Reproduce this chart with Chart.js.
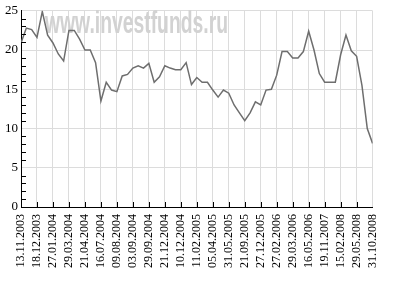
<!DOCTYPE html>
<html>
<head>
<meta charset="utf-8">
<script src="https://cdn.jsdelivr.net/npm/chart.js@4.4.1/dist/chart.umd.min.js"></script>
<style>
    body { margin: 0; background: #fff; }
    #fundChart { display: block; }
</style>
</head>
<body>
<canvas id="fundChart" width="394" height="283"></canvas>
<script>
// tick labels under the x axis, one every 3 points
const dateLabels = [
    '13.11.2003', '18.12.2003', '27.01.2004', '29.03.2004', '21.04.2004', '16.07.2004',
    '09.08.2004', '03.09.2004', '29.09.2004', '21.12.2004', '10.12.2004', '11.02.2005',
    '05.04.2005', '31.05.2005', '21.09.2005', '27.12.2005', '27.02.2006', '29.03.2006',
    '16.05.2006', '19.11.2007', '15.02.2008', '29.05.2008', '31.10.2008'
];

// values
const values = [
    20.9, 22.8, 22.6, 21.6, 24.9, 21.9, 20.9, 19.5, 18.6, 22.5,
    22.5, 21.4, 20.0, 20.0, 18.4, 13.5, 15.9, 14.9, 14.7, 16.7,
    16.9, 17.7, 18.0, 17.7, 18.3, 15.9, 16.6, 18.0, 17.7, 17.5,
    17.5, 18.4, 15.6, 16.5, 15.9, 15.9, 14.9, 14.0, 14.9, 14.5,
    13.0, 12.0, 11.0, 12.0, 13.4, 13.0, 14.9, 15.0, 16.8, 19.8,
    19.8, 19.0, 19.0, 19.8, 22.4, 20.0, 17.0, 15.9, 15.9, 15.9,
    19.4, 21.9, 19.9, 19.2, 15.5, 10.0, 8.1
];

const yTicks = [0, 5, 10, 15, 20, 25];
const pointsPerLabel = 3;

const points = values.map((v, i) => ({ x: i, y: v }));

// watermark behind the line
const watermark = {
    id: 'watermark',
    beforeDatasetsDraw(chart) {
        const ctx = chart.ctx;
        ctx.save();
        ctx.font = 'bold 31px "Liberation Sans", Arial, sans-serif';
        ctx.fillStyle = '#d2d2d2';
        ctx.textBaseline = 'alphabetic';
        const text = 'www.investfunds.ru';
        const w = ctx.measureText(text).width;
        ctx.translate(45, 33);
        ctx.scale(183 / w, 1);
        ctx.fillText(text, 0, 0);
        ctx.restore();
    }
};

// small tick marks pointing into the plot
const innerTicks = {
    id: 'innerTicks',
    afterDraw(chart) {
        const ctx = chart.ctx;
        const x = chart.scales.x;
        const y = chart.scales.y;
        ctx.save();
        ctx.strokeStyle = '#000';
        ctx.lineWidth = 1;
        ctx.beginPath();
        for (let v = 1; v < 25; v++) {
            if (v % 5 === 0) continue;
            const py = Math.round(y.getPixelForValue(v)) + 0.5;
            ctx.moveTo(x.left, py);
            ctx.lineTo(x.left + 5, py);
        }
        for (let i = pointsPerLabel; i < values.length - 1; i += pointsPerLabel) {
            const px = Math.round(x.getPixelForValue(i)) + 0.5;
            ctx.moveTo(px, y.bottom);
            ctx.lineTo(px, y.bottom - 5);
        }
        ctx.stroke();
        ctx.restore();
    }
};

new Chart(document.getElementById('fundChart'), {
    type: 'line',
    data: {
        datasets: [{
            data: points,
            borderColor: '#6e6e6e',
            borderWidth: 1.5,
            pointRadius: 0,
            tension: 0,
            fill: false
        }]
    },
    options: {
        responsive: false,
        animation: false,
        layout: {
            padding: { top: 5, right: 2, left: 0, bottom: 0 }
        },
        plugins: {
            legend: { display: false },
            tooltip: { enabled: false }
        },
        scales: {
            x: {
                type: 'linear',
                min: 0,
                max: values.length - 1,
                afterBuildTicks: (scale) => {
                    scale.ticks = dateLabels.map((d, i) => ({ value: i * pointsPerLabel }));
                },
                afterFit: (scale) => { scale.height = 76; },
                ticks: {
                    autoSkip: false,
                    minRotation: 90,
                    maxRotation: 90,
                    padding: 7,
                    color: '#000',
                    font: { family: '"Liberation Serif", "DejaVu Serif", serif', size: 12 },
                    callback: (value) => dateLabels[Math.round(value / pointsPerLabel)]
                },
                grid: {
                    color: '#dcdcdc',
                    lineWidth: 1,
                    drawTicks: false
                },
                border: { color: '#000', width: 1 }
            },
            y: {
                min: 0,
                max: 25,
                afterBuildTicks: (scale) => {
                    scale.ticks = yTicks.map(v => ({ value: v }));
                },
                afterFit: (scale) => { scale.width = 21; },
                ticks: {
                    padding: 3,
                    color: '#000',
                    font: { family: '"Liberation Serif", "DejaVu Serif", serif', size: 13 }
                },
                grid: {
                    color: '#dcdcdc',
                    lineWidth: 1,
                    drawTicks: false
                },
                border: { color: '#000', width: 1 }
            }
        }
    },
    plugins: [watermark, innerTicks]
});
</script>
</body>
</html>
